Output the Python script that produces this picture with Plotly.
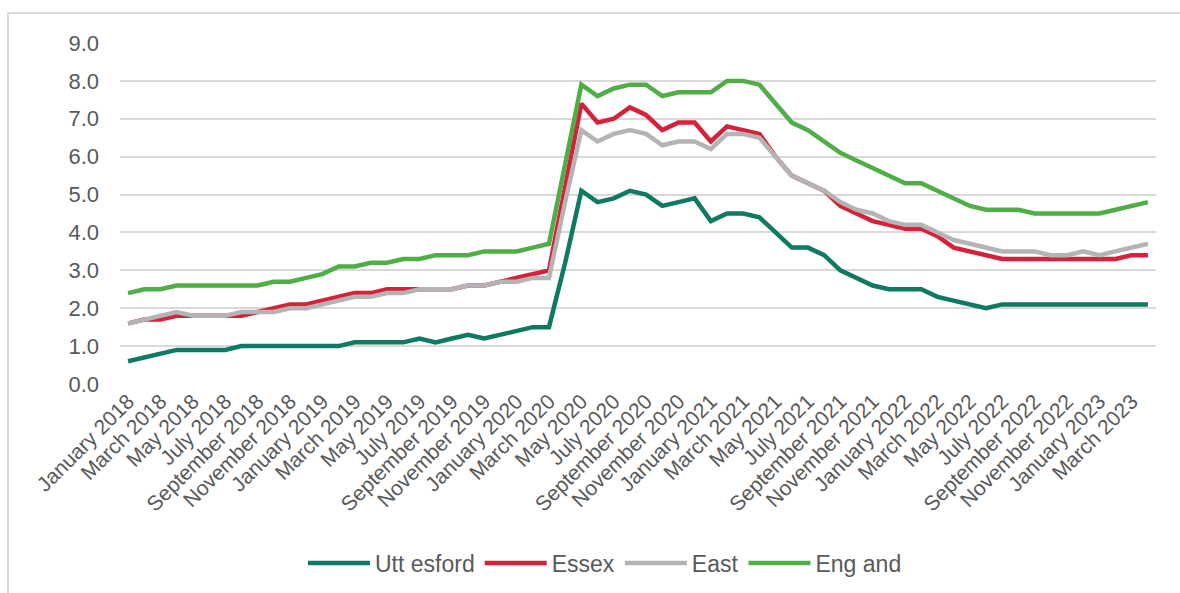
import plotly.graph_objects as go

# Monthly series, January 2018 to April 2023
month_names = ["January", "February", "March", "April", "May", "June", "July",
               "August", "September", "October", "November", "December"]
months = [f"{m} {y}" for y in range(2018, 2024) for m in month_names][:64]

uttlesford = [0.6, 0.7, 0.8, 0.9, 0.9, 0.9, 0.9, 1.0, 1.0, 1.0, 1.0, 1.0,
              1.0, 1.0, 1.1, 1.1, 1.1, 1.1, 1.2, 1.1, 1.2, 1.3, 1.2, 1.3,
              1.4, 1.5, 1.5, 3.2, 5.1, 4.8, 4.9, 5.1, 5.0, 4.7, 4.8, 4.9,
              4.3, 4.5, 4.5, 4.4, 4.0, 3.6, 3.6, 3.4, 3.0, 2.8, 2.6, 2.5,
              2.5, 2.5, 2.3, 2.2, 2.1, 2.0, 2.1, 2.1, 2.1, 2.1, 2.1, 2.1,
              2.1, 2.1, 2.1, 2.1]

essex = [1.6, 1.7, 1.7, 1.8, 1.8, 1.8, 1.8, 1.8, 1.9, 2.0, 2.1, 2.1,
         2.2, 2.3, 2.4, 2.4, 2.5, 2.5, 2.5, 2.5, 2.5, 2.6, 2.6, 2.7,
         2.8, 2.9, 3.0, 5.2, 7.4, 6.9, 7.0, 7.3, 7.1, 6.7, 6.9, 6.9,
         6.4, 6.8, 6.7, 6.6, 6.0, 5.5, 5.3, 5.1, 4.7, 4.5, 4.3, 4.2,
         4.1, 4.1, 3.9, 3.6, 3.5, 3.4, 3.3, 3.3, 3.3, 3.3, 3.3, 3.3,
         3.3, 3.3, 3.4, 3.4]

east = [1.6, 1.7, 1.8, 1.9, 1.8, 1.8, 1.8, 1.9, 1.9, 1.9, 2.0, 2.0,
        2.1, 2.2, 2.3, 2.3, 2.4, 2.4, 2.5, 2.5, 2.5, 2.6, 2.6, 2.7,
        2.7, 2.8, 2.8, 4.8, 6.7, 6.4, 6.6, 6.7, 6.6, 6.3, 6.4, 6.4,
        6.2, 6.6, 6.6, 6.5, 6.0, 5.5, 5.3, 5.1, 4.8, 4.6, 4.5, 4.3,
        4.2, 4.2, 4.0, 3.8, 3.7, 3.6, 3.5, 3.5, 3.5, 3.4, 3.4, 3.5,
        3.4, 3.5, 3.6, 3.7]

england = [2.4, 2.5, 2.5, 2.6, 2.6, 2.6, 2.6, 2.6, 2.6, 2.7, 2.7, 2.8,
           2.9, 3.1, 3.1, 3.2, 3.2, 3.3, 3.3, 3.4, 3.4, 3.4, 3.5, 3.5,
           3.5, 3.6, 3.7, 5.8, 7.9, 7.6, 7.8, 7.9, 7.9, 7.6, 7.7, 7.7,
           7.7, 8.0, 8.0, 7.9, 7.4, 6.9, 6.7, 6.4, 6.1, 5.9, 5.7, 5.5,
           5.3, 5.3, 5.1, 4.9, 4.7, 4.6, 4.6, 4.6, 4.5, 4.5, 4.5, 4.5,
           4.5, 4.6, 4.7, 4.8]

series_names = ["Utt esford", "Essex", "East", "Eng and"]
series_values = [uttlesford, essex, east, england]
series_colors = ["#0f7a62", "#d7213b", "#b4b4b4", "#50ae47"]

tick_labels = months[::2]
y_ticks = [0, 1, 2, 3, 4, 5, 6, 7, 8, 9]

FONT = "Liberation Sans, Arial, sans-serif"
TEXT = "#595959"
GRID = "#d9d9d9"

fig = go.Figure()
for name, vals, col in zip(series_names, series_values, series_colors):
    fig.add_trace(go.Scatter(
        x=months, y=vals, name=name, mode="lines",
        line=dict(color=col, width=4.5),
    ))

W, H = 1180, 593
L, R, T, B = 120, 24, 43, 209
pw, ph = W - L - R, H - T - B

def px_x(p):
    return (p - L) / pw

def px_y(q):
    return (H - B - q) / ph

fig.update_layout(
    width=W, height=H,
    margin=dict(l=L, r=R, t=T, b=B, pad=0, autoexpand=False),
    paper_bgcolor="white", plot_bgcolor="white",
    font=dict(family=FONT, color=TEXT, size=21),
    showlegend=True,
    legend=dict(
        orientation="h", x=px_x(605), y=px_y(563),
        xanchor="center", yanchor="middle",
        font=dict(size=23, color=TEXT), itemwidth=62,
        traceorder="normal", bgcolor="rgba(0,0,0,0)",
    ),
    xaxis=dict(
        type="category", range=[-0.5, 63.5],
        tickmode="array", tickvals=tick_labels, ticktext=tick_labels,
        tickangle=-45, tickfont=dict(size=21, color=TEXT),
        showgrid=False, zeroline=False, showline=False, ticks="",
        automargin=False,
    ),
    yaxis=dict(
        range=[0, 9], tickvals=y_ticks,
        ticktext=[f"{v:.1f}" for v in y_ticks],
        tickfont=dict(size=22, color=TEXT),
        showgrid=True, gridcolor=GRID, gridwidth=2,
        zeroline=False, showline=False, ticks="", ticklabelstandoff=20,
        automargin=False,
    ),
    shapes=[dict(
        type="rect", xref="paper", yref="paper",
        x0=px_x(8), x1=px_x(1190), y0=px_y(13), y1=px_y(610),
        line=dict(color=GRID, width=2), fillcolor="rgba(0,0,0,0)",
        layer="below",
    )],
)

fig.write_html("out.html")
